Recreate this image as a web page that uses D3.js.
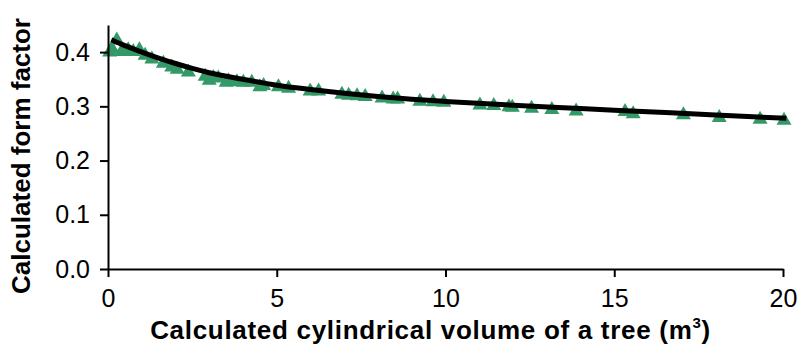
<!DOCTYPE html>
<html>
<head>
<meta charset="utf-8">
<script src="https://cdn.jsdelivr.net/npm/d3@7"></script>
<style>
  body { margin: 0; background: #fff; }
  svg { display: block; font-family: "Liberation Sans", Arial, sans-serif; }
  .axis path, .axis line { stroke: #000; stroke-width: 2; }
  .axis text { font-size: 25px; fill: #000; }
  .title { font-size: 26px; font-weight: bold; fill: #000; }
</style>
</head>
<body>
<svg width="803" height="356"></svg>
<script>
// measured points (cylindrical volume, m3 / form factor)
const volume = [0.05, 0.12, 0.26, 0.40, 0.60, 0.75, 0.93, 1.10, 1.30, 1.64, 1.89, 2.05, 2.38, 2.88,
    3.00, 3.12, 3.27, 3.50, 3.57, 3.82, 4.01, 4.26, 4.50, 4.61, 5.05, 5.35, 5.99, 6.24, 6.93,
    7.13, 7.38, 7.62, 8.12, 8.45, 8.58, 9.24, 9.63, 9.95, 11.02, 11.43, 11.88, 11.98, 12.55,
    13.15, 13.87, 15.32, 15.56, 17.05, 18.11, 19.32, 20.03];
const formFactor = [0.404, 0.410, 0.426, 0.405, 0.408, 0.405, 0.408, 0.398, 0.391, 0.383, 0.376, 0.372, 0.367, 0.359,
    0.352, 0.357, 0.356, 0.348, 0.351, 0.349, 0.348, 0.348, 0.340, 0.342, 0.340, 0.337, 0.332, 0.332, 0.326,
    0.324, 0.323, 0.322, 0.319, 0.317, 0.317, 0.313, 0.312, 0.311, 0.306, 0.305, 0.303, 0.302, 0.300,
    0.298, 0.295, 0.294, 0.290, 0.288, 0.283, 0.280, 0.278];

// fitted curve
const fitVolume = [0.1, 0.5, 1, 1.5, 2, 2.5, 3, 4, 5, 6, 7, 8, 9, 10, 12, 14, 16, 18, 20.1];
const fitFactor = [0.423, 0.412, 0.400, 0.389, 0.379, 0.370, 0.362, 0.350, 0.339, 0.331, 0.324, 0.318, 0.313, 0.309, 0.302, 0.296, 0.290, 0.284, 0.278];

const xTicks = [0, 5, 10, 15, 20];
const yTicks = [0, 0.1, 0.2, 0.3, 0.4];

const margin = { top: 25, right: 20, bottom: 87, left: 108 },
      width = 803 - margin.left - margin.right,
      height = 356 - margin.top - margin.bottom;

const svg = d3.select("svg")
    .append("g")
    .attr("transform", `translate(${margin.left},${margin.top})`);

const x = d3.scaleLinear().domain([0, 20]).range([0, 675]);
const y = d3.scaleLinear().domain([0, 0.45]).range([height, 0]);

const points = volume.map((v, i) => ({ v: v, f: formFactor[i] }));
const fit = fitVolume.map((v, i) => ({ v: v, f: fitFactor[i] }));

// triangle marker centred on its box, like the spreadsheet one
const tri = {
    draw(ctx) {
        const w = 15, h = 13;
        ctx.moveTo(0, -h / 2);
        ctx.lineTo(w / 2, h / 2);
        ctx.lineTo(-w / 2, h / 2);
        ctx.closePath();
    }
};

svg.append("g")
    .selectAll("path")
    .data(points)
    .enter().append("path")
    .attr("d", d3.symbol(tri))
    .attr("transform", d => `translate(${x(d.v)},${y(d.f)})`)
    .attr("fill", "#339966");

svg.append("path")
    .datum(fit)
    .attr("fill", "none")
    .attr("stroke", "#000")
    .attr("stroke-width", 5)
    .attr("d", d3.line().x(d => x(d.v)).y(d => y(d.f)).curve(d3.curveMonotoneX));

svg.append("g")
    .attr("class", "axis")
    .attr("transform", `translate(0,${height})`)
    .call(d3.axisBottom(x).tickValues(xTicks).tickSize(8).tickSizeOuter(0).tickPadding(12).tickFormat(d3.format("d")));

svg.append("g")
    .attr("class", "axis")
    .call(d3.axisLeft(y).tickValues(yTicks).tickSize(8).tickSizeOuter(0).tickPadding(10).tickFormat(d3.format(".1f")));

const xt = svg.append("text")
    .attr("class", "title")
    .attr("x", x(10) - 15)
    .attr("y", height + 70)
    .attr("text-anchor", "middle")
    .style("letter-spacing", "0.7px");
xt.append("tspan").text("Calculated cylindrical volume of a tree (m");
xt.append("tspan").attr("dy", -11).attr("font-size", 15).text("3");
xt.append("tspan").attr("dy", 11).text(")");

svg.append("text")
    .attr("class", "title")
    .attr("transform", `translate(${-78},${height / 2 + 9}) rotate(-90)`)
    .attr("text-anchor", "middle")
    .text("Calculated form factor");
</script>
</body>
</html>
